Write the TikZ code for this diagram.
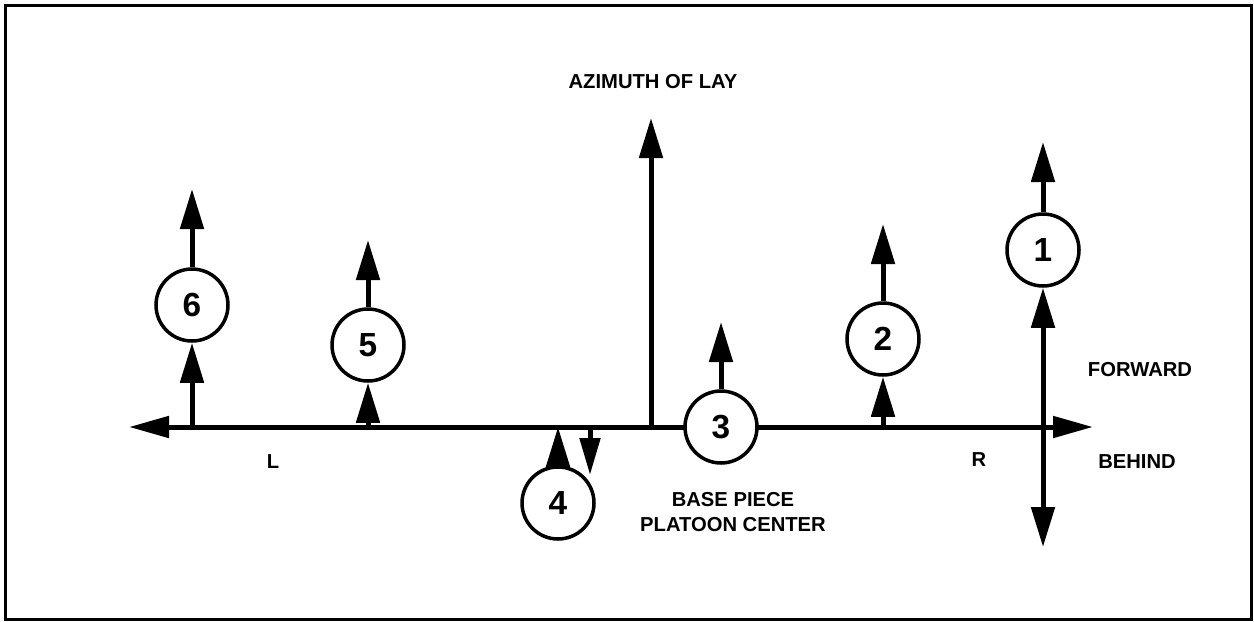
\documentclass[tikz,border=0pt]{standalone}
\usepackage{fontspec}
\setmainfont{Liberation Sans}
\usepackage{tikz}
\usetikzlibrary{arrows, arrows.meta}
\tikzset{gun/.style = {shape = circle, draw, fill = white, line width = 0.7mm, minimum size = 14.4mm, inner sep = 0pt, font = \fontsize{19}{20}\selectfont\bfseries}}
\tikzset{tag/.style = {font = \fontsize{11.5}{14.5}\selectfont\bfseries, inner sep = 0pt}}
\tikzset{shot/.style = {-{Triangle[length = 8mm, width = 4.6mm]}, line width = 1mm}}
\tikzset{axis/.style = {{Triangle[length = 8mm, width = 4.2mm]}-{Triangle[length = 8mm, width = 4.2mm]}, line width = 1mm}}

\begin{document}
\begin{tikzpicture}[x = 0.2mm, y = -0.2mm]
				\useasboundingbox (0, 0) rectangle (1254, 621);
				\draw[line width = 0.6mm] (5, 5) rectangle (1251, 619);

				\coordinate (lt) at (129, 427);
				\coordinate (rt) at (1093, 427);
				\coordinate (az) at (651, 427);
				\coordinate (azt) at (651, 118);
				\draw[axis] (lt) to (rt);
				\draw[shot] (az) to (azt);

				\node[gun] (c1) at (1043, 250) {1};
				\node[gun] (c2) at (883, 339) {2};
				\node[gun] (c3) at (721, 427) {3};
				\node[gun] (c4) at (558, 503) {4};
				\node[gun] (c5) at (368, 345) {5};
				\node[gun] (c6) at (192, 305) {6};

				\coordinate (t1) at (1043, 142);
				\coordinate (b1) at (1043, 547);
				\coordinate (t2) at (883, 224);
				\coordinate (b2) at (883, 427);
				\coordinate (t3) at (721, 322);
				\coordinate (b4) at (558, 427);
				\coordinate (d4) at (590, 427);
				\coordinate (e4) at (590, 475);
				\coordinate (t5) at (368, 240);
				\coordinate (b5) at (368, 427);
				\coordinate (t6) at (192, 189);
				\coordinate (b6) at (192, 427);

				\draw[shot] (c1) to (t1);
				\draw[shot, {Triangle[length = 8mm, width = 4.6mm]}-{Triangle[length = 8mm, width = 4.6mm]}] (b1) to (c1);
				\draw[shot] (c2) to (t2);
				\draw[shot] (b2) to (c2);
				\draw[shot] (c3) to (t3);
				\draw[shot] (c4) to (b4);
				\draw[shot, -{Triangle[length = 7.4mm, width = 4mm]}] (d4) to (e4);
				\draw[shot] (c5) to (t5);
				\draw[shot] (b5) to (c5);
				\draw[shot] (c6) to (t6);
				\draw[shot] (b6) to (c6);

				\node[tag] (azimuth) at (653, 82) {AZIMUTH OF LAY};
				\node[tag] (forward) at (1140, 370) {FORWARD};
				\node[tag] (behind) at (1137, 462) {BEHIND};
				\node[tag] (right) at (979, 460) {R};
				\node[tag] (left) at (273, 462) {L};
				\node[tag, align = center] (base) at (733, 512) {BASE PIECE\\PLATOON CENTER};
			\end{tikzpicture}
\end{document}
